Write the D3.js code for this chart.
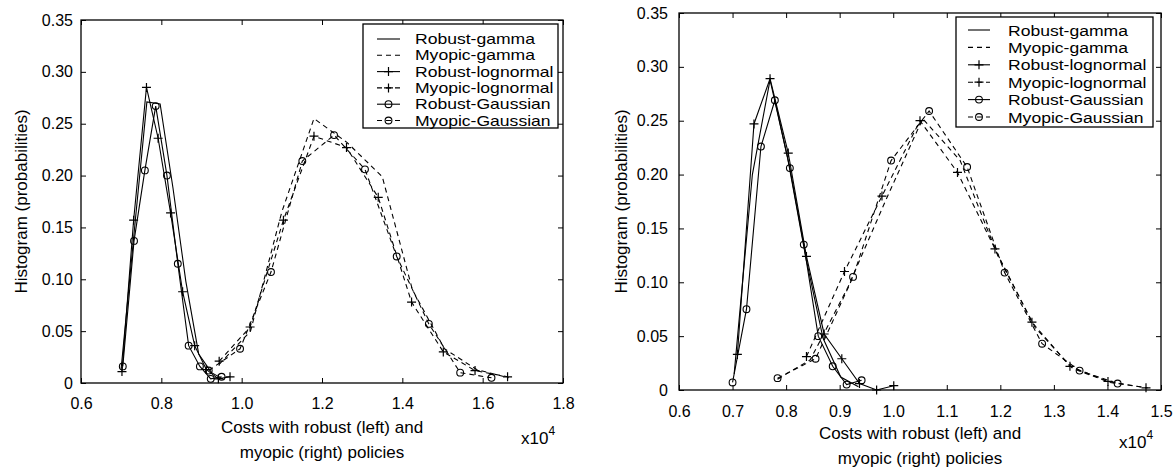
<!DOCTYPE html>
<html><head><meta charset="utf-8">
<script src="https://cdn.jsdelivr.net/npm/d3@7"></script>
<style>
body{margin:0;background:#fff}
svg{display:block}
text{font-family:"Liberation Sans",Arial,Helvetica,sans-serif;fill:#000}
</style>
</head><body>
<svg id="chart" width="1174" height="468"></svg>
<script>
// ---------- tick labels ----------
const yTicks = [0, 0.05, 0.10, 0.15, 0.20, 0.25, 0.30, 0.35];
const leftXTicks = [0.6, 0.8, 1.0, 1.2, 1.4, 1.6, 1.8];
const rightXTicks = [0.6, 0.7, 0.8, 0.9, 1.0, 1.1, 1.2, 1.3, 1.4, 1.5];
const seriesNames = ["Robust-gamma", "Myopic-gamma", "Robust-lognormal", "Myopic-lognormal", "Robust-Gaussian", "Myopic-Gaussian"];

// ---------- left panel (costs, x10^4) ----------
const L_robustGammaX = [0.700, 0.733, 0.764, 0.797, 0.829, 0.861, 0.893, 0.925, 0.957];
const L_robustGammaY = [0.014, 0.148, 0.271, 0.269, 0.188, 0.098, 0.028, 0.010, 0.003];
const L_myopicGammaX = [0.944, 1.022, 1.100, 1.180, 1.262, 1.350, 1.425, 1.505, 1.585, 1.665];
const L_myopicGammaY = [0.018, 0.050, 0.165, 0.255, 0.232, 0.199, 0.090, 0.033, 0.013, 0.005];
const L_robustLognormalX = [0.702, 0.731, 0.763, 0.792, 0.823, 0.853, 0.883, 0.912, 0.942, 0.971];
const L_robustLognormalY = [0.011, 0.157, 0.285, 0.236, 0.164, 0.088, 0.036, 0.013, 0.004, 0.006];
const L_myopicLognormalX = [0.944, 1.021, 1.104, 1.180, 1.261, 1.340, 1.423, 1.502, 1.581, 1.662];
const L_myopicLognormalY = [0.021, 0.054, 0.157, 0.238, 0.227, 0.179, 0.078, 0.030, 0.012, 0.006];
const L_robustGaussianX = [0.704, 0.732, 0.759, 0.786, 0.814, 0.841, 0.868, 0.896, 0.923, 0.950];
const L_robustGaussianY = [0.016, 0.137, 0.205, 0.267, 0.200, 0.115, 0.036, 0.016, 0.004, 0.006];
const L_myopicGaussianX = [0.918, 0.996, 1.073, 1.151, 1.230, 1.307, 1.386, 1.466, 1.544, 1.622];
const L_myopicGaussianY = [0.012, 0.033, 0.107, 0.214, 0.239, 0.206, 0.122, 0.057, 0.010, 0.005];

// ---------- right panel ----------
const R_robustGammaX = [0.703, 0.737, 0.770, 0.803, 0.836, 0.869, 0.902, 0.935];
const R_robustGammaY = [0.015, 0.200, 0.288, 0.215, 0.125, 0.048, 0.012, 0.003];
const R_myopicGammaX = [0.784, 0.845, 0.915, 0.985, 1.055, 1.125, 1.195, 1.265, 1.335, 1.405, 1.475];
const R_myopicGammaY = [0.010, 0.028, 0.095, 0.175, 0.252, 0.213, 0.125, 0.058, 0.020, 0.007, 0.002];
const R_robustLognormalX = [0.709, 0.740, 0.770, 0.804, 0.838, 0.871, 0.904, 0.937, 0.969, 1.001];
const R_robustLognormalY = [0.033, 0.247, 0.289, 0.220, 0.124, 0.052, 0.029, 0.006, 0.000, 0.004];
const R_myopicLognormalX = [0.838, 0.909, 0.979, 1.050, 1.120, 1.190, 1.259, 1.330, 1.401, 1.472];
const R_myopicLognormalY = [0.031, 0.110, 0.180, 0.250, 0.202, 0.131, 0.063, 0.022, 0.008, 0.002];
const R_robustGaussianX = [0.700, 0.726, 0.753, 0.779, 0.807, 0.833, 0.860, 0.887, 0.913, 0.941];
const R_robustGaussianY = [0.007, 0.075, 0.226, 0.269, 0.206, 0.135, 0.050, 0.022, 0.005, 0.009];
const R_myopicGaussianX = [0.784, 0.855, 0.925, 0.996, 1.067, 1.138, 1.208, 1.278, 1.348, 1.419];
const R_myopicGaussianY = [0.011, 0.029, 0.105, 0.213, 0.259, 0.207, 0.109, 0.043, 0.018, 0.006];

const styles = [
  {dash: null, marker: null},
  {dash: "5,4", marker: null},
  {dash: null, marker: "plus"},
  {dash: "5,4", marker: "plus"},
  {dash: null, marker: "circle"},
  {dash: "5,4", marker: "circle"}
];

const svg = d3.select("#chart");

function drawMarker(g, type, cx, cy) {
  if (type === "plus") {
    g.append("path").attr("d", `M${cx-4.5},${cy}H${cx+4.5}M${cx},${cy-4.5}V${cy+4.5}`)
      .attr("stroke", "#000").attr("stroke-width", 1.2).attr("fill", "none");
  } else if (type === "circle") {
    g.append("circle").attr("cx", cx).attr("cy", cy).attr("r", 3.4)
      .attr("stroke", "#000").attr("stroke-width", 1.1).attr("fill", "none");
  }
}

function drawPanel(p) {
  const x = d3.scaleLinear().domain(p.xDomain).range([p.left, p.right]);
  const y = d3.scaleLinear().domain([0, 0.35]).range([p.bottom, p.top]);
  const g = svg.append("g");
  const fmtX = d => d.toFixed(1);
  const fmtY = d => d === 0 ? "0" : d.toFixed(2);

  const styleAxis = s => {
    s.select(".domain").remove();
    s.attr("font-family", null).attr("font-size", null);
    s.selectAll("line").attr("stroke", "#000").attr("stroke-width", 1);
    s.selectAll("text").style("font-size", "16px").attr("fill", "#000");
  };

  g.append("g").attr("transform", `translate(0,${p.bottom})`)
    .call(d3.axisBottom(x).tickValues(p.xTicks).tickFormat(fmtX).tickSize(-5).tickPadding(p.xPad))
    .call(styleAxis);
  g.append("g").attr("transform", `translate(0,${p.top})`)
    .call(d3.axisTop(x).tickValues(p.xTicks).tickFormat("").tickSize(-5))
    .call(styleAxis);
  g.append("g").attr("transform", `translate(${p.left},0)`)
    .call(d3.axisLeft(y).tickValues(yTicks).tickFormat(fmtY).tickSize(-5).tickPadding(p.yPad))
    .call(styleAxis);
  g.append("g").attr("transform", `translate(${p.right},0)`)
    .call(d3.axisRight(y).tickValues(yTicks).tickFormat("").tickSize(-5))
    .call(styleAxis);

  g.append("rect").attr("x", p.left).attr("y", p.top)
    .attr("width", p.right - p.left).attr("height", p.bottom - p.top)
    .attr("fill", "none").attr("stroke", "#000").attr("stroke-width", 1.3);

  const line = d3.line().x(d => x(d[0])).y(d => y(d[1]));
  p.series.forEach((s, i) => {
    const pts = d3.zip(s[0], s[1]);
    g.append("path").datum(pts).attr("d", line)
      .attr("fill", "none").attr("stroke", "#000").attr("stroke-width", 1.1)
      .attr("stroke-dasharray", styles[i].dash);
    if (styles[i].marker) {
      pts.forEach(d => drawMarker(g, styles[i].marker, x(d[0]), y(d[1])));
    }
  });

  // legend
  const lg = g.append("g");
  lg.append("rect").attr("x", p.lgX0).attr("y", p.lgY0)
    .attr("width", p.lgX1 - p.lgX0).attr("height", p.lgY1 - p.lgY0)
    .attr("fill", "#fff").attr("stroke", "#000").attr("stroke-width", 1.3);
  seriesNames.forEach((name, i) => {
    const cy = p.lgRow0 + i * p.lgStep;
    lg.append("line").attr("x1", p.lgLine0).attr("x2", p.lgLine1).attr("y1", cy).attr("y2", cy)
      .attr("stroke", "#000").attr("stroke-width", 1.1).attr("stroke-dasharray", styles[i].dash);
    if (styles[i].marker) drawMarker(lg, styles[i].marker, (p.lgLine0 + p.lgLine1) / 2, cy);
    lg.append("text").attr("transform", `translate(${p.lgText},${cy}) scale(${p.lgScale},1)`)
      .attr("dy", "0.36em").style("font-size", p.lgFont + "px").text(name);
  });

  // axis titles
  g.append("text")
    .attr("transform", `translate(${p.yTitleX},${(p.top + p.bottom) / 2}) rotate(-90)`)
    .attr("text-anchor", "middle").attr("dy", "0.35em").style("font-size", "17px")
    .text("Histogram (probabilities)");
  const cx = (p.left + p.right) / 2;
  g.append("text").attr("x", cx).attr("y", p.xTitleY).attr("text-anchor", "middle")
    .style("font-size", "17px").text("Costs with robust (left) and");
  g.append("text").attr("x", cx).attr("y", p.xTitleY + 25).attr("text-anchor", "middle")
    .style("font-size", "17px").text("myopic (right) policies");
  const ex = g.append("text").attr("x", p.expX).attr("y", p.expY).style("font-size", "17px");
  ex.append("tspan").text("x10");
  ex.append("tspan").attr("dy", -9).style("font-size", "12px").text("4");
}

drawPanel({
  left: 81, right: 563, top: 20, bottom: 383,
  xDomain: [0.6, 1.8], xTicks: leftXTicks, xPad: 15, yPad: 8,
  series: [
    [L_robustGammaX, L_robustGammaY], [L_myopicGammaX, L_myopicGammaY],
    [L_robustLognormalX, L_robustLognormalY], [L_myopicLognormalX, L_myopicLognormalY],
    [L_robustGaussianX, L_robustGaussianY], [L_myopicGaussianX, L_myopicGaussianY]
  ],
  lgX0: 363, lgX1: 558, lgY0: 24, lgY1: 128, lgRow0: 39, lgStep: 16.3,
  lgLine0: 377, lgLine1: 400, lgText: 415, lgFont: 14.4, lgScale: 1.22,
  yTitleX: 21, xTitleY: 433, expX: 521, expY: 444
});

drawPanel({
  left: 679, right: 1161, top: 13, bottom: 390,
  xDomain: [0.6, 1.5], xTicks: rightXTicks, xPad: 16, yPad: 11,
  series: [
    [R_robustGammaX, R_robustGammaY], [R_myopicGammaX, R_myopicGammaY],
    [R_robustLognormalX, R_robustLognormalY], [R_myopicLognormalX, R_myopicLognormalY],
    [R_robustGaussianX, R_robustGaussianY], [R_myopicGaussianX, R_myopicGaussianY]
  ],
  lgX0: 956, lgX1: 1153, lgY0: 17, lgY1: 127, lgRow0: 30, lgStep: 17.4,
  lgLine0: 968, lgLine1: 990, lgText: 1008, lgFont: 15.4, lgScale: 1.14,
  yTitleX: 621, xTitleY: 439, expX: 1119, expY: 448
});
</script>
</body></html>
